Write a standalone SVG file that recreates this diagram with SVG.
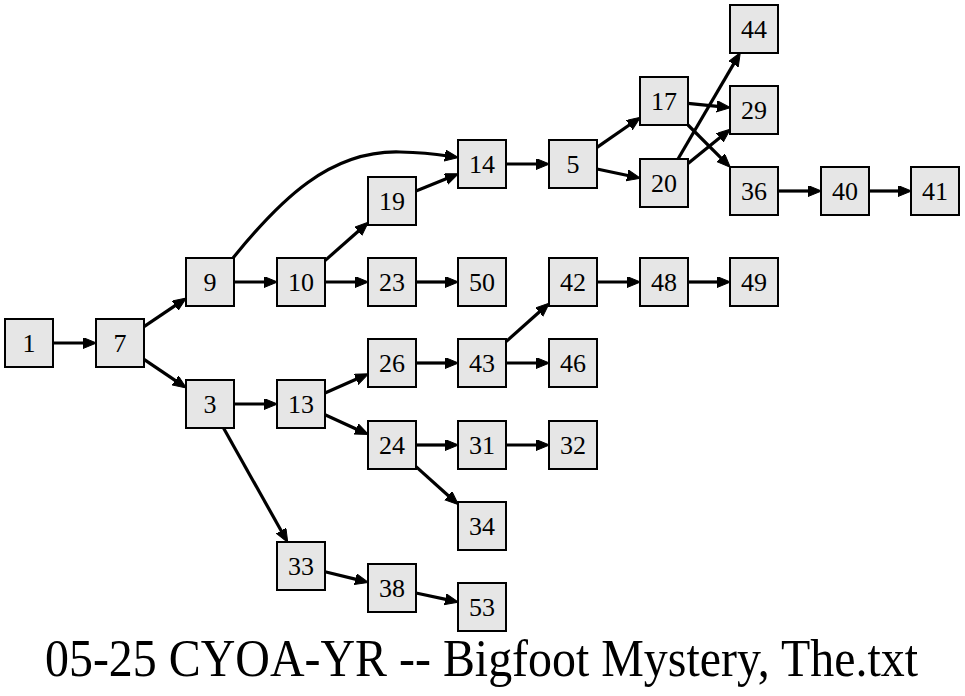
<svg xmlns="http://www.w3.org/2000/svg" width="965" height="696" viewBox="0 0 965 696">
<style>
.n rect{fill:#e6e6e6;stroke:#000;stroke-width:2}
.n text{font-family:"Liberation Serif","Times New Roman",serif;font-size:26px;text-anchor:middle;fill:#000}
#edges path,#edges line{stroke:#000;stroke-width:3.2;fill:none;marker-end:url(#ah)}
.title{font-family:"Liberation Serif","Times New Roman",serif;font-size:45px;fill:#000}
</style>
<defs>
<marker id="ah" markerUnits="userSpaceOnUse" markerWidth="18" markerHeight="14" refX="3" refY="5.5" orient="auto">
<path d="M0,0 L13.5,5.5 L0,11 z" fill="#000" stroke="#000" stroke-width="1"/>
</marker>
</defs>
<rect width="965" height="696" fill="#fff"/>
<g id="edges">
<line x1="53" y1="343" x2="86" y2="343"/>
<line x1="144" y1="326.7" x2="177.7" y2="303.9"/>
<line x1="144" y1="359.3" x2="177.7" y2="382.1"/>
<line x1="234" y1="282" x2="267" y2="282"/>
<path d="M233,258 C280,200 330,150 400,152 C420,152.5 435,154 448,156"/>
<line x1="325" y1="260.6" x2="360.5" y2="229.2"/>
<line x1="325" y1="282" x2="358" y2="282"/>
<line x1="416" y1="191" x2="448.7" y2="177.8"/>
<line x1="416" y1="282" x2="448" y2="282"/>
<line x1="506" y1="164" x2="539" y2="164"/>
<line x1="597" y1="147.4" x2="631.8" y2="123.3"/>
<line x1="597" y1="169" x2="630.2" y2="176"/>
<line x1="688" y1="103.4" x2="720" y2="106.6"/>
<line x1="688" y1="125" x2="722.9" y2="159.9"/>
<line x1="678" y1="159" x2="735" y2="61.6"/>
<line x1="688" y1="163.5" x2="722.2" y2="135.8"/>
<line x1="779" y1="191" x2="811" y2="191"/>
<line x1="869" y1="191" x2="901" y2="191"/>
<line x1="234" y1="404" x2="267" y2="404"/>
<line x1="223.5" y1="428" x2="282.6" y2="533.3"/>
<line x1="325" y1="393" x2="358.9" y2="378"/>
<line x1="325" y1="414.8" x2="358.9" y2="430.2"/>
<line x1="416" y1="363" x2="448" y2="363"/>
<line x1="506" y1="341.6" x2="541.5" y2="310"/>
<line x1="506" y1="363" x2="539" y2="363"/>
<line x1="597" y1="282" x2="630" y2="282"/>
<line x1="688" y1="282" x2="720" y2="282"/>
<line x1="416" y1="445" x2="448" y2="445"/>
<line x1="416" y1="466.6" x2="450.6" y2="497.7"/>
<line x1="506" y1="445" x2="539" y2="445"/>
<line x1="325" y1="571.8" x2="358.3" y2="579.9"/>
<line x1="416" y1="593" x2="448.2" y2="599.9"/>
</g>
<g id="n1" class="n"><rect x="5" y="319" width="48" height="48"/><text x="29" y="352">1</text></g>
<g id="n7" class="n"><rect x="96" y="319" width="48" height="48"/><text x="120" y="352">7</text></g>
<g id="n9" class="n"><rect x="186" y="258" width="48" height="48"/><text x="210" y="291">9</text></g>
<g id="n3" class="n"><rect x="186" y="380" width="48" height="48"/><text x="210" y="413">3</text></g>
<g id="n10" class="n"><rect x="277" y="258" width="48" height="48"/><text x="301" y="291">10</text></g>
<g id="n13" class="n"><rect x="277" y="380" width="48" height="48"/><text x="301" y="413">13</text></g>
<g id="n33" class="n"><rect x="277" y="542" width="48" height="48"/><text x="301" y="575">33</text></g>
<g id="n19" class="n"><rect x="368" y="177" width="48" height="48"/><text x="392" y="210">19</text></g>
<g id="n23" class="n"><rect x="368" y="258" width="48" height="48"/><text x="392" y="291">23</text></g>
<g id="n26" class="n"><rect x="368" y="339" width="48" height="48"/><text x="392" y="372">26</text></g>
<g id="n24" class="n"><rect x="368" y="421" width="48" height="48"/><text x="392" y="454">24</text></g>
<g id="n38" class="n"><rect x="368" y="564" width="48" height="48"/><text x="392" y="597">38</text></g>
<g id="n14" class="n"><rect x="458" y="140" width="48" height="48"/><text x="482" y="173">14</text></g>
<g id="n50" class="n"><rect x="458" y="258" width="48" height="48"/><text x="482" y="291">50</text></g>
<g id="n43" class="n"><rect x="458" y="339" width="48" height="48"/><text x="482" y="372">43</text></g>
<g id="n31" class="n"><rect x="458" y="421" width="48" height="48"/><text x="482" y="454">31</text></g>
<g id="n34" class="n"><rect x="458" y="502" width="48" height="48"/><text x="482" y="535">34</text></g>
<g id="n53" class="n"><rect x="458" y="583" width="48" height="48"/><text x="482" y="616">53</text></g>
<g id="n5" class="n"><rect x="549" y="140" width="48" height="48"/><text x="573" y="173">5</text></g>
<g id="n42" class="n"><rect x="549" y="258" width="48" height="48"/><text x="573" y="291">42</text></g>
<g id="n46" class="n"><rect x="549" y="339" width="48" height="48"/><text x="573" y="372">46</text></g>
<g id="n32" class="n"><rect x="549" y="421" width="48" height="48"/><text x="573" y="454">32</text></g>
<g id="n17" class="n"><rect x="640" y="77" width="48" height="48"/><text x="664" y="110">17</text></g>
<g id="n20" class="n"><rect x="640" y="159" width="48" height="48"/><text x="664" y="192">20</text></g>
<g id="n48" class="n"><rect x="640" y="258" width="48" height="48"/><text x="664" y="291">48</text></g>
<g id="n44" class="n"><rect x="730" y="5" width="48" height="48"/><text x="754" y="38">44</text></g>
<g id="n29" class="n"><rect x="730" y="86" width="48" height="48"/><text x="754" y="119">29</text></g>
<g id="n36" class="n"><rect x="730" y="167" width="48" height="48"/><text x="754" y="200">36</text></g>
<g id="n49" class="n"><rect x="730" y="258" width="48" height="48"/><text x="754" y="291">49</text></g>
<g id="n40" class="n"><rect x="821" y="167" width="48" height="48"/><text x="845" y="200">40</text></g>
<g id="n41" class="n"><rect x="911" y="167" width="48" height="48"/><text x="935" y="200">41</text></g>
<text class="title" x="45" y="573" transform="scale(1,1.18)" textLength="873" lengthAdjust="spacingAndGlyphs">05-25 CYOA-YR -- Bigfoot Mystery, The.txt</text>
</svg>
